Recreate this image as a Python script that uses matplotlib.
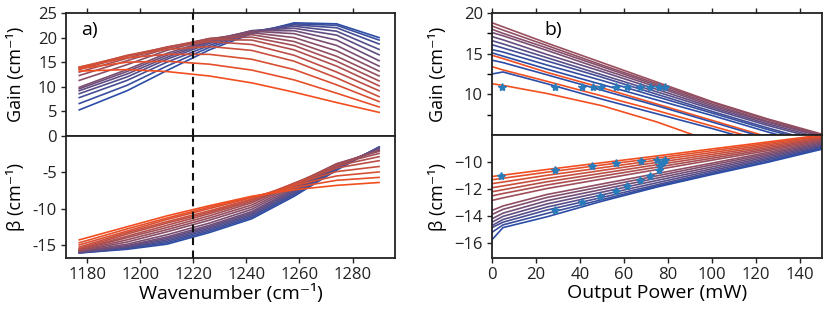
import numpy as np
import matplotlib.pyplot as plt

plt.rcParams['font.family'] = ['Open Sans', 'DejaVu Sans']

# ---- panel a: gain / beta vs wavenumber (lines blue -> red) ----
wavenumber = [1177, 1195, 1210, 1226, 1242, 1258, 1274, 1290]
gain_a = [
    [5.3, 9.2, 13.3, 17.5, 20.8, 23.0, 22.8, 20.0],
    [6.6, 10.3, 14.2, 18.0, 21.0, 22.8, 22.5, 19.5],
    [7.8, 11.3, 15.0, 18.4, 21.2, 22.6, 22.0, 18.7],
    [8.6, 12.0, 15.6, 18.8, 21.3, 22.3, 21.3, 17.6],
    [9.2, 12.6, 16.0, 19.1, 21.4, 21.9, 20.5, 16.5],
    [9.6, 13.1, 16.4, 19.3, 21.4, 21.4, 19.5, 15.3],
    [9.9, 13.5, 16.8, 19.5, 21.3, 20.8, 18.4, 14.2],
    [11.3, 14.5, 17.4, 19.7, 21.0, 20.0, 17.3, 13.2],
    [12.3, 15.3, 17.8, 19.8, 20.6, 19.2, 16.2, 12.2],
    [13.0, 15.8, 18.0, 19.8, 20.1, 18.4, 15.2, 11.2],
    [13.5, 16.2, 18.1, 19.6, 19.5, 17.5, 14.2, 10.2],
    [13.8, 16.4, 18.0, 19.2, 18.6, 16.4, 13.0, 9.2],
    [14.0, 16.3, 17.6, 18.2, 17.4, 15.2, 11.8, 8.0],
    [14.0, 15.9, 16.6, 16.6, 15.6, 13.5, 10.4, 7.0],
    [13.7, 15.0, 15.2, 14.6, 13.4, 11.4, 8.7, 5.9],
    [13.2, 13.5, 13.1, 12.2, 10.8, 8.9, 6.8, 4.8],
]
beta_a = [
    [-16.1, -15.6, -14.9, -13.3, -11.4, -8.3, -4.7, -1.5],
    [-16.1, -15.5, -14.7, -13.1, -11.2, -8.1, -4.5, -1.55],
    [-16.05, -15.4, -14.5, -12.9, -11.0, -7.9, -4.4, -1.6],
    [-16.0, -15.3, -14.3, -12.7, -10.8, -7.7, -4.3, -1.65],
    [-16.0, -15.2, -14.1, -12.5, -10.6, -7.5, -4.2, -1.7],
    [-15.95, -15.1, -13.9, -12.3, -10.4, -7.3, -4.1, -1.8],
    [-15.9, -14.9, -13.6, -12.0, -10.1, -7.1, -4.0, -1.9],
    [-15.85, -14.6, -13.2, -11.6, -9.8, -6.9, -3.9, -2.0],
    [-15.8, -14.3, -12.9, -11.3, -9.5, -6.7, -3.8, -2.1],
    [-15.7, -14.0, -12.6, -11.0, -9.2, -6.6, -3.9, -2.4],
    [-15.6, -13.8, -12.3, -10.7, -9.0, -6.5, -4.1, -2.85],
    [-15.5, -13.5, -12.0, -10.5, -8.8, -6.5, -4.4, -3.4],
    [-15.3, -13.3, -11.8, -10.3, -8.7, -6.6, -4.9, -4.2],
    [-15.0, -13.1, -11.5, -10.0, -8.5, -6.8, -5.5, -4.95],
    [-14.7, -12.8, -11.3, -9.8, -8.4, -7.1, -6.1, -5.7],
    [-14.3, -12.5, -11.0, -9.6, -8.3, -7.4, -6.8, -6.4],
]
marked_wn = 1220

# ---- panel b: gain / beta vs output power ----
power = [0, 5, 25, 50, 75, 100, 125, 150]
gain_b = [
    [18.8, 18.3, 16.3, 13.9, 11.5, 9.1, 7.0, 5.1],
    [18.4, 17.9, 16.0, 13.6, 11.3, 9.0, 6.9, 5.0],
    [18.0, 17.5, 15.7, 13.4, 11.1, 8.8, 6.7, 4.9],
    [17.6, 17.2, 15.4, 13.1, 10.9, 8.6, 6.6, 4.8],
    [17.1, 16.7, 14.9, 12.8, 10.6, 8.4, 6.4, 4.6],
    [16.6, 16.2, 14.5, 12.4, 10.3, 8.2, 6.2, 4.4],
    [16.1, 15.7, 14.1, 12.1, 10.0, 7.9, 5.9, 4.0],
    [15.5, 15.2, 13.6, 11.7, 9.7, 7.7, 5.7, 3.8],
    [15.1, 14.7, 13.1, 11.2, 9.3, 7.4, 5.4, 3.5],
    [14.8, 14.4, 12.7, 10.8, 8.8, 6.8, 4.8, 2.8],
    [14.2, 13.9, 12.4, 10.5, 8.6, 6.6, 4.6, 2.6],
    [13.4, 13.0, 11.6, 9.8, 8.0, 6.1, 4.2, 2.3],
    [12.5, 12.75, 11.3, 9.4, 7.6, 5.8, 3.9, 2.0],
    [11.3, 11.1, 10.1, 8.6, 6.6, 4.2, 1.5, -1.0],
]
# colour position of each gain curve, 0 = blue, 1 = red
gain_b_tone = [0.55, 0.5, 0.45, 0.4, 0.3, 0.22, 0.12, 0.05, 0.0, 1.0, 0.0, 1.0, 0.0, 1.0]
beta_b = [
    [-11.07, -10.97, -10.55, -10.05, -9.55, -9.03, -8.52, -8.00],
    [-11.31, -11.20, -10.75, -10.22, -9.70, -9.16, -8.62, -8.07],
    [-11.60, -11.48, -10.98, -10.42, -9.86, -9.30, -8.73, -8.14],
    [-11.90, -11.77, -11.22, -10.62, -10.03, -9.44, -8.84, -8.21],
    [-12.20, -12.05, -11.46, -10.83, -10.20, -9.58, -8.95, -8.28],
    [-12.50, -12.33, -11.70, -11.04, -10.38, -9.72, -9.06, -8.35],
    [-12.84, -12.65, -11.96, -11.26, -10.56, -9.86, -9.17, -8.42],
    [-13.58, -13.25, -12.40, -11.62, -10.85, -10.08, -9.30, -8.50],
    [-13.88, -13.50, -12.62, -11.82, -11.02, -10.21, -9.41, -8.58],
    [-14.20, -13.78, -12.86, -12.03, -11.19, -10.36, -9.52, -8.66],
    [-14.45, -14.02, -13.10, -12.23, -11.36, -10.50, -9.63, -8.74],
    [-14.70, -14.25, -13.33, -12.43, -11.53, -10.63, -9.74, -8.82],
    [-14.85, -14.45, -13.55, -12.62, -11.68, -10.75, -9.84, -8.90],
    [-15.20, -14.65, -13.80, -12.78, -11.78, -10.85, -9.95, -8.97],
    [-15.75, -14.85, -14.05, -12.90, -11.85, -10.92, -10.03, -9.05],
]

# measured points
meas_gain_p = [4.5, 28.5, 40.9, 45.9, 49.4, 56.5, 61.4, 67.4, 72.0, 75.9, 78.5]
meas_gain = [10.9, 10.9, 10.9, 10.9, 10.9, 10.9, 10.9, 10.9, 10.9, 10.9, 10.9]
meas_beta_p = [4.3, 28.5, 28.5, 40.9, 45.6, 49.0, 56.2, 56.2, 61.4, 67.1, 67.9,
               71.7, 75.2, 75.9, 76.5, 77.7, 78.5]
meas_beta = [-11.0, -10.57, -13.58, -12.99, -10.27, -12.55, -10.08, -12.13, -11.76,
             -11.36, -9.9, -11.0, -9.88, -10.62, -10.27, -10.03, -9.88]

BLUE = np.array([0.17, 0.30, 0.65])
RED = np.array([0.95, 0.31, 0.13])
STAR = '#2a7bba'
UNIT = '(cm\u207b\u00b9)'


def tone(t):
    return tuple(BLUE * (1 - t) + RED * t)


def frame(ax, top):
    for s in ax.spines.values():
        s.set_linewidth(1.3)
        s.set_color('#222222')
    ax.tick_params(direction='out', length=3.5, width=1.0, colors='#222222',
                   labelsize=12, right=False, pad=3)
    if top:
        ax.tick_params(axis='x', top=True, bottom=False, labeltop=False, labelbottom=False)
    else:
        ax.tick_params(axis='x', top=False, bottom=True, labelbottom=True)


fig = plt.figure(figsize=(8.3, 3.16), dpi=100)
W, H = 830.0, 316.0


def place(x0, x1, y0, y1):
    return fig.add_axes([x0 / W, 1 - y1 / H, (x1 - x0) / W, (y1 - y0) / H])


ax_a1 = place(66, 395, 13, 136)
ax_a2 = place(66, 395, 136, 258)
ax_b1 = place(492, 822, 13, 135)
ax_b2 = place(492, 822, 135, 258)

n = len(gain_a)
for i in range(n):
    c = tone(i / (n - 1))
    ax_a1.plot(wavenumber, gain_a[i], color=c, lw=1.2)
    ax_a2.plot(wavenumber, beta_a[i], color=c, lw=1.2)

for ax in (ax_a1, ax_a2):
    ax.axvline(marked_wn, color='#111111', lw=1.5, ls=(0, (3.6, 2.6)), zorder=5)
    ax.set_xlim(1172, 1296)
    ax.set_xticks([1180, 1200, 1220, 1240, 1260, 1280])

ax_a1.set_ylim(0, 25)
ax_a1.set_yticks([0, 5, 10, 15, 20, 25])
ax_a2.set_ylim(-16.8, 0)
ax_a2.set_yticks([-15, -10, -5])
ax_a2.set_yticklabels(['-15', '-10', '-5'])
frame(ax_a1, True)
frame(ax_a2, False)
ax_a1.set_ylabel('Gain ' + UNIT, fontsize=13)
ax_a2.set_ylabel('\u03b2 ' + UNIT, fontsize=13)
ax_a2.set_xlabel('Wavenumber ' + UNIT, fontsize=14, labelpad=1)
ax_a1.yaxis.set_label_coords(-0.125, 0.5)
ax_a2.yaxis.set_label_coords(-0.125, 0.5)
ax_a1.text(0.045, 0.82, 'a)', transform=ax_a1.transAxes, fontsize=14)

for row, t in zip(gain_b, gain_b_tone):
    ax_b1.plot(power, row, color=tone(t), lw=1.2)
m = len(beta_b)
for i in range(m):
    ax_b2.plot(power, beta_b[i], color=tone(1 - i / (m - 1)), lw=1.2)

ax_b1.plot(meas_gain_p, meas_gain, ls='none', marker='*', ms=6, color=STAR, zorder=6)
ax_b2.errorbar(meas_beta_p, meas_beta, yerr=0.1, ls='none', marker='*', ms=6,
               color=STAR, ecolor=STAR, elinewidth=1.0, capsize=1.2, zorder=6)

for ax in (ax_b1, ax_b2):
    ax.set_xlim(0, 150)
    ax.set_xticks([0, 20, 40, 60, 80, 100, 120, 140])

ax_b1.set_ylim(5, 20)
ax_b1.set_yticks([10, 15, 20])
ax_b1.set_yticks([7.5, 12.5, 17.5], minor=True)
ax_b2.set_ylim(-17.1, -8)
ax_b2.set_yticks([-16, -14, -12, -10])
frame(ax_b1, True)
frame(ax_b2, False)
ax_b1.tick_params(which='minor', direction='out', length=3.5, width=1.0, right=False)
ax_b1.set_ylabel('Gain ' + UNIT, fontsize=13)
ax_b2.set_ylabel('\u03b2 ' + UNIT, fontsize=13)
ax_b2.set_xlabel('Output Power (mW)', fontsize=14, labelpad=1)
ax_b1.yaxis.set_label_coords(-0.135, 0.5)
ax_b2.yaxis.set_label_coords(-0.135, 0.5)
ax_b1.text(0.16, 0.82, 'b)', transform=ax_b1.transAxes, fontsize=14)

fig.savefig('out.png', dpi=100)
